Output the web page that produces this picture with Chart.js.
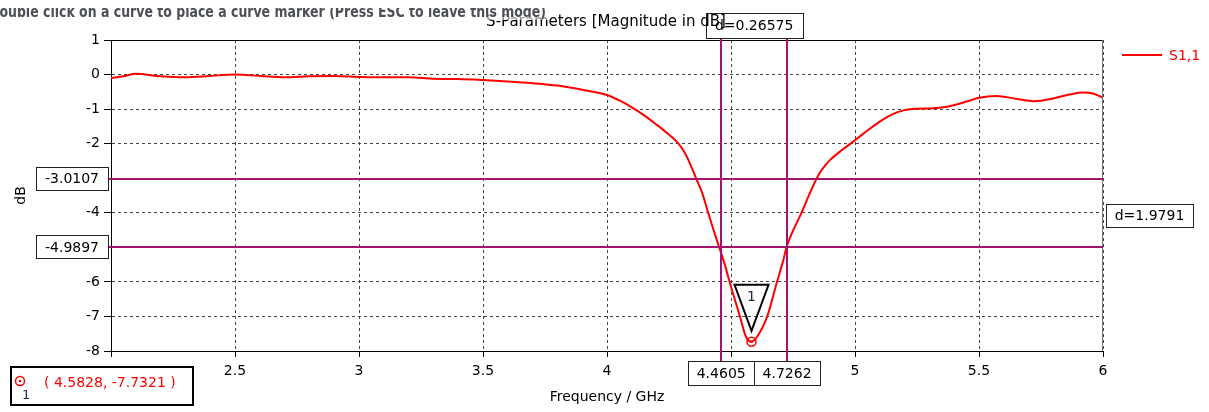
<!DOCTYPE html>
<html>
<head>
<meta charset="utf-8">
<script src="https://cdn.jsdelivr.net/npm/chart.js@4"></script>
<style>
  html, body { margin: 0; padding: 0; background: #fff; }
  canvas { display: block; }
</style>
</head>
<body>
<canvas id="sparam" width="1209" height="412"></canvas>
<script>
// S1,1 magnitude
const freqGHz = [2.0, 2.05, 2.1, 2.2, 2.3, 2.4, 2.5, 2.6, 2.7, 2.8, 2.9, 3.0, 3.1, 3.2, 3.3, 3.4, 3.5, 3.6, 3.7, 3.8, 3.9,
                 4.0, 4.05, 4.1, 4.15, 4.2, 4.24, 4.265, 4.288, 4.31, 4.328, 4.359, 4.382, 4.408, 4.428, 4.452, 4.475, 4.496, 4.536, 4.56,
                 4.5828, 4.606, 4.646, 4.684, 4.711, 4.724, 4.75, 4.785, 4.815, 4.846, 4.862, 4.88, 4.9, 4.95, 5.0, 5.05, 5.1,
                 5.15, 5.2, 5.25, 5.3, 5.37, 5.45, 5.5, 5.57, 5.65, 5.72, 5.8, 5.87, 5.92, 5.96, 6.0];
const s11dB = [-0.10, -0.05, 0.02, -0.05, -0.08, -0.04, 0.0, -0.04, -0.08, -0.05, -0.04, -0.07, -0.08, -0.08, -0.12, -0.13, -0.16, -0.20, -0.25, -0.32, -0.44,
               -0.59, -0.75, -0.95, -1.18, -1.45, -1.68, -1.83, -2.0, -2.22, -2.47, -3.0, -3.39, -4.0, -4.46, -4.99, -5.5, -6.04, -7.0, -7.58,
               -7.73, -7.58, -7.0, -6.04, -5.37, -4.99, -4.52, -3.99, -3.48, -3.0, -2.8, -2.63, -2.47, -2.17, -1.9, -1.62, -1.36,
               -1.15, -1.03, -0.99, -0.98, -0.93, -0.78, -0.67, -0.62, -0.70, -0.77, -0.69, -0.57, -0.52, -0.55, -0.67];

const markerFreqs = [4.4605, 4.7262];
const markerFreqLabels = ['4.4605', '4.7262'];
const markerLevels = [-3.0107, -4.9897];
const markerLevelLabels = ['-3.0107', '-4.9897'];
const deltaFreqLabel = 'd=0.26575';
const deltaLevelLabel = 'd=1.9791';
const curveMarker = [4.5828, -7.7321];
const curveMarkerLabel = '( 4.5828, -7.7321 )';

const FONT = '"DejaVu Sans", sans-serif';
const MAGENTA = '#a3146e';

function labelBox(ctx, cx, cy, w, h, text) {
    const l = Math.round(cx - w / 2) + 0.5, t = Math.round(cy - h / 2) + 0.5;
    ctx.fillStyle = '#fff';
    ctx.fillRect(l, t, w, h);
    ctx.strokeStyle = '#222';
    ctx.lineWidth = 1;
    ctx.strokeRect(l, t, w, h);
    ctx.fillStyle = '#000';
    ctx.font = '14px ' + FONT;
    ctx.textAlign = 'center';
    ctx.textBaseline = 'middle';
    ctx.fillText(text, cx, cy + 1);
}

const overlay = {
    id: 'overlay',
    afterDatasetsDraw(chart) {
        const { ctx, chartArea: a, scales: { x, y } } = chart;
        ctx.save();
        // frame: top black, right grey
        ctx.lineWidth = 1;
        ctx.strokeStyle = '#000';
        ctx.beginPath();
        ctx.moveTo(a.left, a.top + 0.5);
        ctx.lineTo(a.right, a.top + 0.5);
        ctx.stroke();
        ctx.strokeStyle = '#777';
        ctx.beginPath();
        ctx.moveTo(a.right - 0.5, a.top);
        ctx.lineTo(a.right - 0.5, a.bottom);
        ctx.stroke();

        // marker lines
        ctx.strokeStyle = MAGENTA;
        ctx.lineWidth = 2;
        markerFreqs.forEach(f => {
            const px = Math.round(x.getPixelForValue(f));
            ctx.beginPath();
            ctx.moveTo(px, 38);
            ctx.lineTo(px, a.bottom + 10);
            ctx.stroke();
        });
        markerLevels.forEach(v => {
            const py = Math.round(y.getPixelForValue(v));
            ctx.beginPath();
            ctx.moveTo(108, py);
            ctx.lineTo(a.right, py);
            ctx.stroke();
        });

        // triangle marker + circle
        const mx = x.getPixelForValue(curveMarker[0]);
        const my = y.getPixelForValue(curveMarker[1]);
        ctx.strokeStyle = '#000';
        ctx.lineWidth = 2;
        ctx.beginPath();
        ctx.moveTo(mx - 17, my - 57);
        ctx.lineTo(mx + 17, my - 57);
        ctx.lineTo(mx, my - 11);
        ctx.closePath();
        ctx.stroke();
        ctx.fillStyle = '#1a2a55';
        ctx.font = '14px ' + FONT;
        ctx.textAlign = 'center';
        ctx.textBaseline = 'middle';
        ctx.fillText('1', mx, my - 44);
        ctx.strokeStyle = '#f00';
        ctx.lineWidth = 1.5;
        ctx.beginPath();
        ctx.arc(mx, my, 4.5, 0, Math.PI * 2);
        ctx.stroke();
        ctx.fillStyle = '#f00';
        ctx.beginPath();
        ctx.arc(mx, my, 1.3, 0, Math.PI * 2);
        ctx.fill();

        // value boxes
        const fx0 = x.getPixelForValue(markerFreqs[0]);
        const fx1 = x.getPixelForValue(markerFreqs[1]);
        labelBox(ctx, (fx0 + fx1) / 2, 25.5, 97, 25, deltaFreqLabel);
        markerFreqs.forEach((f, i) => labelBox(ctx, x.getPixelForValue(f), 373, 66, 24, markerFreqLabels[i]));
        markerLevels.forEach((v, i) => labelBox(ctx, 72, y.getPixelForValue(v), 72, 23, markerLevelLabels[i]));
        const ly0 = y.getPixelForValue(markerLevels[0]);
        const ly1 = y.getPixelForValue(markerLevels[1]);
        labelBox(ctx, 1149.5, (ly0 + ly1) / 2 + 3, 87, 23, deltaLevelLabel);

        // curve marker readout
        ctx.fillStyle = '#fff';
        ctx.fillRect(10, 366, 183, 39);
        ctx.strokeStyle = '#000';
        ctx.lineWidth = 2;
        ctx.strokeRect(11, 367, 182, 38);
        ctx.strokeStyle = '#f00';
        ctx.lineWidth = 1.5;
        ctx.beginPath();
        ctx.arc(20, 381, 4.5, 0, Math.PI * 2);
        ctx.stroke();
        ctx.fillStyle = '#f00';
        ctx.beginPath();
        ctx.arc(20, 381, 1.3, 0, Math.PI * 2);
        ctx.fill();
        ctx.fillStyle = '#1a2a55';
        ctx.font = '13px ' + FONT;
        ctx.textAlign = 'left';
        ctx.textBaseline = 'middle';
        ctx.fillText('1', 22, 396);
        ctx.fillStyle = '#f00';
        ctx.font = '14px ' + FONT;
        ctx.fillText(curveMarkerLabel, 44, 383);

        // legend
        ctx.strokeStyle = '#f00';
        ctx.lineWidth = 2;
        ctx.beginPath();
        ctx.moveTo(1122, 55);
        ctx.lineTo(1162, 55);
        ctx.stroke();
        ctx.fillStyle = '#f00';
        ctx.font = '14px ' + FONT;
        ctx.fillText('S1,1', 1169, 56);

        // title + mode hint overlapping it
        ctx.fillStyle = '#000';
        ctx.font = '15px ' + FONT;
        ctx.textAlign = 'center';
        ctx.textBaseline = 'alphabetic';
        ctx.fillText('S-Parameters [Magnitude in dB]', 606, 26);
        ctx.fillStyle = 'rgba(255,255,255,0.55)';
        ctx.fillRect(0, 0, 548, 20);
        ctx.beginPath();
        ctx.rect(0, 8, 1209, 14);
        ctx.clip();
        ctx.fillStyle = '#4c4f56';
        ctx.font = 'bold 16px ' + FONT;
        ctx.textAlign = 'left';
        ctx.fillText('Double click on a curve to place a curve marker (Press ESC to leave this mode)', -11, 17, 557);
        ctx.restore();
    }
};

const ctx = document.getElementById('sparam').getContext('2d');
new Chart(ctx, {
    type: 'line',
    data: {
        datasets: [{
            label: 'S1,1',
            data: freqGHz.map((f, i) => ({ x: f, y: s11dB[i] })),
            borderColor: '#ff0000',
            borderWidth: 2,
            pointRadius: 0,
            fill: false,
            cubicInterpolationMode: 'monotone'
        }]
    },
    options: {
        responsive: false,
        animation: false,
        devicePixelRatio: 1,
        layout: { padding: { left: 0, top: 40, right: 106, bottom: 0 } },
        plugins: { legend: { display: false }, title: { display: false }, tooltip: { enabled: false } },
        scales: {
            x: {
                type: 'linear',
                min: 2, max: 6,
                afterFit: s => { s.height = 61; },
                ticks: {
                    stepSize: 0.5, color: '#000', padding: 6, maxRotation: 0, font: { family: FONT, size: 14 },
                    callback: v => (v === 2 ? '' : String(v))
                },
                grid: { color: '#444', tickColor: '#000', tickLength: 6 },
                border: { color: '#000', dash: [3, 3] },
                title: { display: true, text: 'Frequency / GHz', color: '#000', font: { family: FONT, size: 14 }, padding: { top: 0, bottom: 6 } }
            },
            y: {
                min: -8, max: 1,
                afterFit: s => { s.width = 111; },
                ticks: { stepSize: 1, color: '#000', padding: 4, font: { family: FONT, size: 14 } },
                grid: { color: '#444', tickColor: '#000', tickLength: 7 },
                border: { color: '#000', dash: [3, 3] },
                title: { display: true, text: 'dB', color: '#000', font: { family: FONT, size: 14 }, padding: { top: 13, bottom: 0 } }
            }
        }
    },
    plugins: [overlay]
});
</script>
</body>
</html>
